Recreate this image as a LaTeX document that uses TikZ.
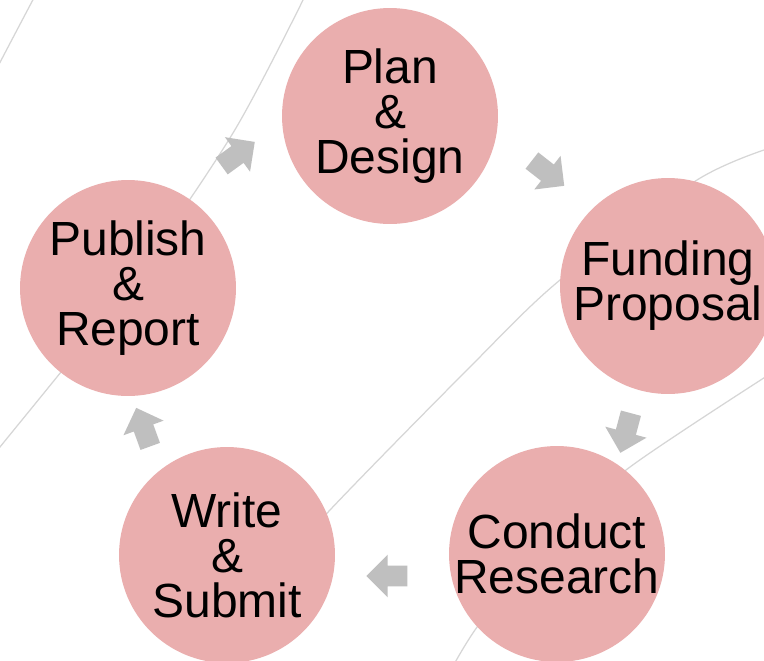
\documentclass[tikz,border=0pt]{standalone}
\usepackage{fontspec}
\setmainfont{Liberation Sans}
\usetikzlibrary{shapes.arrows,positioning}
\definecolor{stepfill}{RGB}{234,174,174}
\definecolor{arrowgray}{RGB}{191,191,191}
\definecolor{linegray}{RGB}{214,214,214}

\begin{document}
\begin{tikzpicture}[x=0.02cm,y=-0.02cm]
\useasboundingbox (0,0) rectangle (764,660);
\clip (0,0) rectangle (764,660);
\fill[white] (0,0) rectangle (764,660);
% thin lines behind the cycle
\begin{scope}[draw=linegray,line width=0.7pt]
    \draw plot[smooth] coordinates {(36,-6) (17,30) (-4,70)};
    \draw plot[smooth] coordinates {(306,-6) (233,133) (128,287) (0,447) (-6,454)};
    \draw plot[smooth] coordinates {(770,148) (697,180) (560,280) (467,370) (330,510) (260,590)};
    \draw plot[smooth] coordinates {(770,374) (630,467) (550,538) (480,623) (452,668)};
\end{scope}
\begin{scope}[every node/.style={circle,fill=stepfill,minimum size=4.32cm,inner sep=-0.2cm,
              align=center,font=\fontsize{27.3pt}{25.6pt}\selectfont}]
    \node (PD) at (390,116) {Plan\\\&\\Design};
    \node (FP) at (668,286) {Funding\\Proposal};
    \node (CR) at (557,554) {Conduct\\Research};
    \node (WS) at (227,555) {Write\\\&\\Submit};
    \node (PR) at (128,288) {Publish\\\&\\Report};
\end{scope}
\begin{scope}[every node/.style={single arrow,fill=arrowgray,minimum height=0.82cm,
              inner xsep=0pt,inner ysep=0.2cm,single arrow head extend=0.22cm}]
    \node[rotate=36] (a1) at (234,157) {};
    \node[rotate=-38] (a2) at (544,170) {};
    \node[rotate=-105] (a3) at (627,428) {};
    \node[rotate=180] (a4) at (392,576) {};
    \node[rotate=110] (a5) at (145,432) {};
\end{scope}
\end{tikzpicture}
\end{document}
